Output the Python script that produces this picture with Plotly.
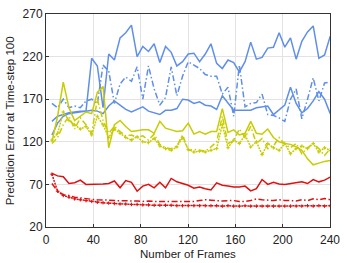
import plotly.graph_objects as go

frames = [5, 9.8, 14.6, 19.4, 24.2, 29, 33.8, 38.6, 43.4, 48.2,
          53, 57.8, 62.6, 67.4, 72.2, 77, 81.8, 86.6, 91.4, 96.2,
          101, 105.8, 110.6, 115.4, 120.2, 125, 129.8, 134.6, 139.4, 144.2,
          149, 153.8, 158.6, 163.4, 168.2, 173, 177.8, 182.6, 187.4, 192.2,
          197, 201.8, 206.6, 211.4, 216.2, 221, 225.8, 230.6, 235.4, 240.2]

blue_top = [128, 142, 150, 153, 154, 155, 156, 218, 209, 160,
            223, 216, 242, 248, 257, 220, 232, 226, 235, 213,
            232, 225, 209, 214, 223, 224, 214, 223, 235, 212,
            206, 216, 213, 202, 214, 237, 217, 219, 230, 231,
            248, 231, 242, 217, 238, 249, 256, 218, 222, 244]
blue_dd = [165, 160, 170, 160, 162, 160, 168, 170, 165, 210,
           203, 165, 188, 196, 191, 208, 170, 209, 182, 163,
           172, 208, 174, 197, 214, 210, 206, 199, 197, 197,
           176, 184, 150, 210, 161, 165, 166, 176, 152, 151,
           148, 144, 170, 182, 147, 170, 195, 168, 189, 190]
blue_low = [144, 150, 152, 154, 155, 156, 156, 157, 156, 153,
            162, 168, 163, 158, 155, 158, 161, 156, 154, 152,
            157, 157, 159, 170, 169, 165, 167, 163, 162, 158,
            174, 165, 157, 157, 157, 157, 160, 161, 162, 152,
            158, 163, 184, 165, 154, 159, 168, 179, 170, 153]

yel_solid = [120, 150, 190, 160, 145, 150, 155, 153, 178, 185,
             113, 140, 145, 138, 132, 133, 134, 134, 130, 144,
             136, 134, 132, 133, 142, 129, 132, 129, 132, 132,
             159, 131, 134, 128, 130, 144, 130, 129, 135, 125,
             120, 118, 117, 114, 110, 100, 93, 95, 97, 98]
yel_dd = [118, 125, 140, 150, 135, 148, 140, 130, 170, 145,
          130, 138, 132, 127, 128, 125, 127, 122, 129, 117,
          113, 112, 115, 128, 110, 111, 110, 109, 114, 120,
          150, 118, 121, 135, 125, 138, 118, 124, 112, 115,
          125, 117, 113, 118, 106, 113, 118, 112, 104, 112]
yel_dot = [122, 130, 155, 145, 140, 135, 138, 128, 150, 140,
           125, 135, 130, 125, 122, 126, 120, 119, 124, 115,
           112, 110, 114, 125, 111, 108, 109, 108, 110, 112,
           140, 113, 122, 118, 128, 114, 120, 105, 118, 113,
           110, 118, 106, 112, 115, 112, 118, 108, 113, 110]

red_solid = [83, 80, 79, 71, 72, 75, 70, 70, 70, 70.5,
             71, 74, 66, 74.5, 72.5, 62, 68, 70, 66, 72.5,
             66, 77, 73, 71, 69, 65.5, 67, 65, 63.5, 71.8,
             69, 68, 67, 67, 68, 62.4, 65, 75.7, 70, 72.6,
             70.5, 70, 71, 72, 73, 71, 75.7, 73, 75, 78.6]
red_dd = [71, 62, 58, 57, 55, 54, 53, 52.5, 52, 52,
          51.5, 51, 51, 50.5, 51, 50.5, 50, 50.5, 50, 50,
          50.5, 50, 50, 50, 50.5, 50, 51, 52, 51.5, 51,
          50.5, 51, 51, 50, 50, 51, 53, 52, 51.5, 51,
          52, 51, 51, 50.5, 52, 51, 53, 52, 53.5, 52]
red_dot = [82, 62, 57, 55, 53, 52, 51, 50, 49, 48.5,
           48, 47.5, 47, 47, 46.5, 46.5, 46, 46, 45.5, 45.5,
           45.5, 45.5, 45, 45, 45, 45, 45, 45, 45, 45,
           44.5, 45, 44.5, 44.5, 45, 44.5, 44.5, 44.5, 44.5, 44.5,
           44.5, 44.5, 44.5, 44.5, 44.5, 45, 44.5, 45, 44.5, 45]

x_ticks = [0, 40, 80, 120, 160, 200, 240]
y_ticks = [20, 70, 120, 170, 220, 270]
x_title = "Number of Frames"
y_title = "Prediction Error at Time-step 100"

BLUE = "#5F8FE8"
YEL = "#C9CC00"
RED = "#DD1111"

DASHDOT = "6px,2.5px,1.5px,2.5px"
DOT = "2px,1px"

series = [
    (blue_top, BLUE, "solid", False),
    (blue_dd, BLUE, DASHDOT, False),
    (blue_low, BLUE, "solid", False),
    (yel_solid, YEL, "solid", False),
    (yel_dd, YEL, DASHDOT, False),
    (yel_dot, YEL, DOT, True),
    (red_solid, RED, "solid", False),
    (red_dd, RED, DASHDOT, False),
    (red_dot, RED, DOT, True),
]

fig = go.Figure()
for ys, col, dash, mk in series:
    fig.add_trace(go.Scatter(
        x=frames, y=ys, mode="lines+markers" if mk else "lines",
        line=dict(color=col, width=1.5, dash=dash),
        marker=dict(color=col, size=2.5, symbol="cross-thin",
                    line=dict(color=col, width=1)),
        showlegend=False,
    ))

FONT = "Liberation Sans, Arial"
axis_common = dict(
    showline=True, linecolor="#333333", linewidth=1, mirror=True,
    showgrid=True, gridcolor="#E3E3E3", gridwidth=1,
    ticks="inside", ticklen=3, tickcolor="#333333",
    zeroline=False,
    tickfont=dict(family=FONT, size=12, color="#222222"),
)

fig.update_xaxes(range=[0, 240], tickvals=x_ticks, ticklabelstandoff=2, **axis_common)
fig.update_yaxes(range=[20, 270], tickvals=y_ticks, **axis_common)

fig.add_annotation(text=x_title, xref="paper", yref="paper",
                   x=0.5, y=-0.127, xanchor="center", yanchor="middle",
                   showarrow=False, font=dict(family=FONT, size=11.5, color="#222222"))
fig.add_annotation(text=y_title, xref="paper", yref="paper",
                   x=-0.128, y=0.5, xanchor="center", yanchor="middle",
                   textangle=-90, showarrow=False,
                   font=dict(family=FONT, size=11.5, color="#222222"))

fig.update_layout(
    width=347, height=263,
    margin=dict(l=46, r=12, t=7, b=36),
    paper_bgcolor="white", plot_bgcolor="white",
)

fig.write_html("out.html",
               config={"displayModeBar": False},
               post_script="document.body.style.margin='0';document.body.style.overflow='hidden';")
